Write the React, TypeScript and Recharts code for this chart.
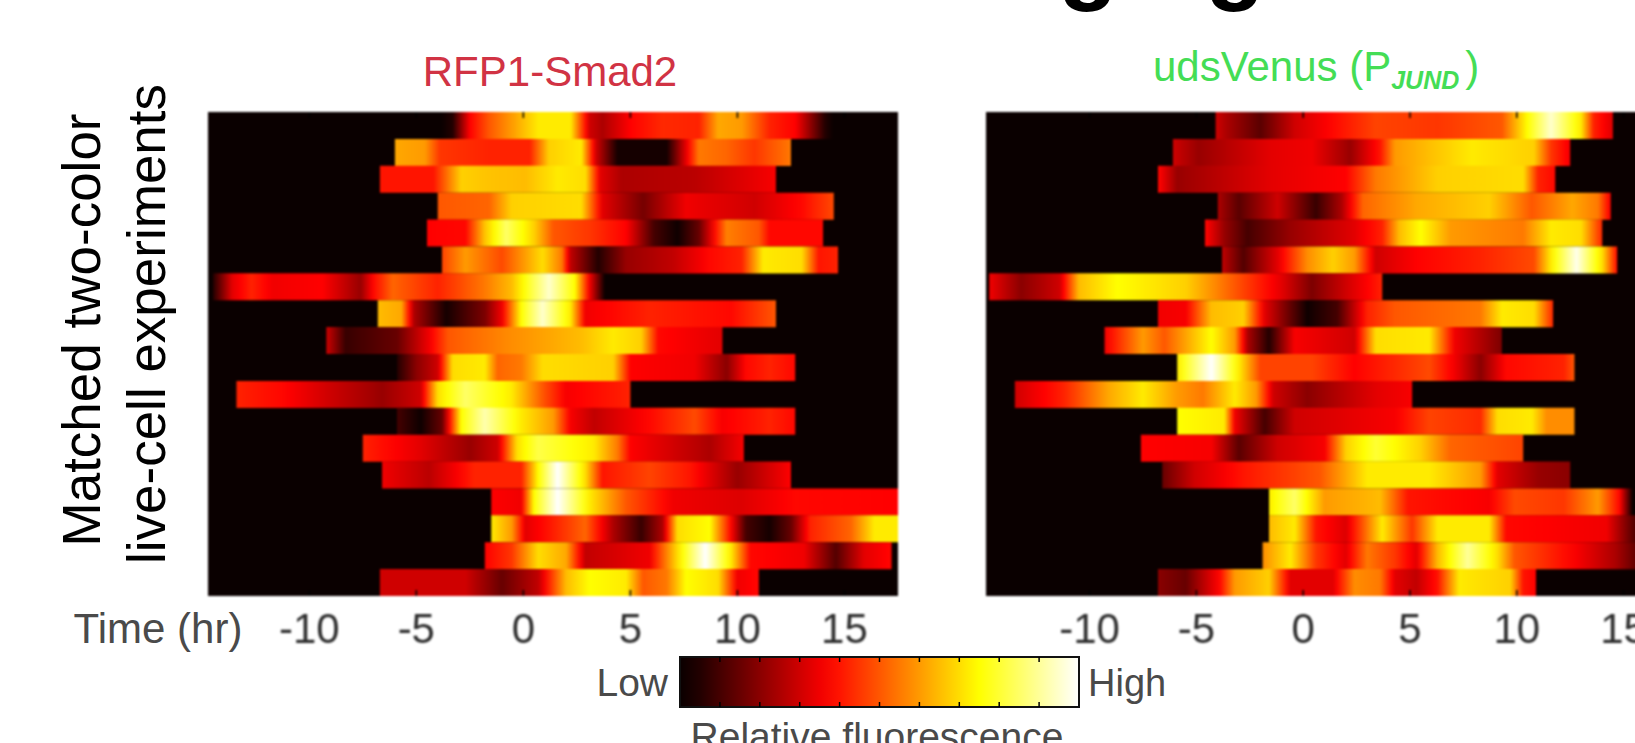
import React from "react";
import { Bar, BarChart, CartesianGrid, Cell, XAxis, YAxis } from "recharts";

type Knot = [number, number];

const timeTicks = [-10, -5, 0, 5, 10, 15];
const colorbarTicks = [0.1, 0.2, 0.3, 0.4, 0.5, 0.6, 0.7, 0.8, 0.9];
const colorbarKnots: Knot[] = [[0, 0], [0.25, 0.25], [0.5, 0.5], [0.75, 0.75], [1, 1]];

// each row: [time in hours, relative fluorescence 0..1]
const smadRows: Knot[][] = [
  [[-4, 0], [-3.3, 0.05], [-2.5, 0.37], [-1.6, 0.5], [-0.55, 0.6], [0.7, 0.72], [2.2, 0.72], [3.1, 0.3], [3.7, 0.25], [5, 0.37], [6.5, 0.43], [8.2, 0.42], [9.1, 0.62], [10.2, 0.6], [11.5, 0.42], [12.7, 0.37], [14.1, 0.05], [14.6, 0]],
  [[-6, 0.62], [-4.6, 0.6], [-3.9, 0.45], [-1.6, 0.42], [0.3, 0.42], [1.2, 0.68], [2.7, 0.72], [3.4, 0.3], [4.4, 0.03], [6.7, 0.03], [7.5, 0.3], [8.2, 0.55], [9.5, 0.52], [10.8, 0.45], [12.5, 0.55]],
  [[-6.7, 0.4], [-4.2, 0.4], [-2.9, 0.68], [-1.6, 0.66], [0.1, 0.65], [1.6, 0.72], [2.9, 0.7], [3.6, 0.33], [4.6, 0.25], [8, 0.27], [11.8, 0.36]],
  [[-4, 0.5], [-1.6, 0.52], [-0.55, 0.68], [2.7, 0.7], [3.7, 0.33], [5.6, 0.17], [7.6, 0.35], [10.8, 0.3], [13, 0.38], [14.5, 0.48]],
  [[-4.5, 0.37], [-2.7, 0.38], [-1.8, 0.66], [-0.8, 0.85], [0.5, 0.68], [1.4, 0.5], [3.1, 0.45], [4.8, 0.37], [6.1, 0.1], [7.2, 0.02], [8.2, 0.15], [9.5, 0.56], [11, 0.5], [11.5, 0.38], [14, 0.38]],
  [[-3.8, 0.47], [-2.7, 0.6], [-1, 0.48], [0.9, 0.7], [1.8, 0.55], [2.2, 0.28], [3.5, 0.05], [4.8, 0.22], [7, 0.28], [8.7, 0.38], [10.2, 0.42], [11.2, 0.72], [13, 0.7], [13.8, 0.4], [14.7, 0.42]],
  [[-14.5, 0.05], [-13.6, 0.33], [-12.7, 0.42], [-11.7, 0.35], [-9.4, 0.37], [-7.6, 0.22], [-7, 0.38], [-6.1, 0.52], [-4, 0.42], [-1.8, 0.55], [-0.55, 0.65], [0.3, 0.8], [1.2, 0.95], [2.4, 0.75], [3.1, 0.35], [3.8, 0.02]],
  [[-6.8, 0.65], [-5.7, 0.62], [-5.1, 0.25], [-3.6, 0.03], [-1.8, 0.18], [-1, 0.35], [-0.1, 0.75], [0.9, 0.95], [2.2, 0.72], [2.9, 0.35], [5.9, 0.42], [9.7, 0.38], [11.8, 0.5]],
  [[-9.2, 0.3], [-8.3, 0.08], [-5.9, 0.15], [-4.4, 0.35], [-3.5, 0.5], [-0.55, 0.58], [2.7, 0.65], [4.2, 0.72], [5.5, 0.68], [6.3, 0.38], [9.3, 0.33]],
  [[-5.9, 0.05], [-5, 0.2], [-4, 0.3], [-3.3, 0.7], [-1.8, 0.72], [-1.2, 0.52], [-0.1, 0.55], [0.9, 0.7], [4.2, 0.68], [5, 0.37], [8, 0.35], [9.5, 0.2], [10.4, 0.38], [11.5, 0.42], [12.7, 0.38]],
  [[-13.4, 0.42], [-11.3, 0.38], [-9.1, 0.3], [-6.6, 0.22], [-4.8, 0.3], [-4, 0.7], [-2.7, 0.85], [-0.55, 0.72], [0.9, 0.5], [2, 0.36], [5, 0.42]],
  [[-5.9, 0.1], [-4.8, 0.02], [-3.8, 0.15], [-2.9, 0.75], [-1.8, 0.92], [-0.1, 0.72], [1.4, 0.6], [2.2, 0.36], [3.3, 0.28], [5.9, 0.38], [8, 0.48], [9.3, 0.36], [11.5, 0.42], [12.7, 0.38]],
  [[-7.5, 0.42], [-4.8, 0.33], [-2.5, 0.22], [-1.2, 0.3], [-0.3, 0.7], [0.7, 0.82], [3.3, 0.72], [4.4, 0.55], [5, 0.37], [8.7, 0.25], [10.3, 0.36]],
  [[-6.6, 0.35], [-4.4, 0.27], [-2.3, 0.42], [-0.1, 0.42], [0.7, 0.75], [1.6, 1], [2.9, 0.7], [3.7, 0.4], [5.9, 0.47], [7.8, 0.4], [10, 0.22], [12.5, 0.37]],
  [[-1.5, 0.37], [-0.1, 0.35], [0.5, 0.75], [1.6, 1], [3.1, 0.72], [4.8, 0.5], [7, 0.35], [10.2, 0.32], [12.7, 0.38], [17.5, 0.37]],
  [[-1.5, 0.72], [-0.55, 0.6], [0.1, 0.33], [1.2, 0.4], [2.9, 0.52], [4.2, 0.25], [5.5, 0.08], [6.5, 0.25], [7.2, 0.7], [8.7, 0.75], [9.5, 0.45], [10.4, 0.1], [11.5, 0.03], [12.5, 0.15], [13.4, 0.42], [15.3, 0.52], [16.4, 0.72], [17.5, 0.72]],
  [[-1.8, 0.37], [-0.55, 0.45], [0.7, 0.7], [2, 0.62], [2.9, 0.28], [5.9, 0.35], [7.2, 0.7], [8.5, 1], [9.7, 0.72], [10.6, 0.38], [13.1, 0.35], [14.6, 0.12], [15.9, 0.33], [17.2, 0.38]],
  [[-6.7, 0.3], [-2.7, 0.3], [-1, 0.15], [0.7, 0.28], [2, 0.65], [3.1, 0.75], [4.8, 0.72], [5.6, 0.5], [6.7, 0.55], [7.6, 0.75], [9.1, 0.7], [10, 0.35], [11, 0.38]],
];

const venusRows: Knot[][] = [
  [[-4.1, 0.3], [-3.6, 0.25], [-2, 0.13], [-0.4, 0.3], [1.4, 0.38], [3.4, 0.47], [6.3, 0.45], [9.3, 0.5], [10.5, 0.75], [11.6, 0.95], [13, 0.72], [13.6, 0.42], [14.5, 0.32]],
  [[-6.1, 0.3], [-4.9, 0.22], [-1.6, 0.33], [0.4, 0.35], [2.2, 0.22], [3.6, 0.4], [4.3, 0.6], [7.9, 0.72], [10.8, 0.68], [11.6, 0.45], [12.5, 0.35]],
  [[-6.8, 0.38], [-5.9, 0.22], [-1.6, 0.33], [2, 0.37], [3.4, 0.55], [6.3, 0.68], [10.3, 0.7], [11, 0.42], [11.8, 0.38]],
  [[-4, 0.25], [-3, 0.13], [-1.2, 0.3], [0.6, 0.08], [1.8, 0.25], [2.8, 0.52], [5.3, 0.62], [8.7, 0.68], [10.7, 0.5], [12.6, 0.62], [13.8, 0.55], [14.4, 0.35]],
  [[-4.6, 0.38], [-3.7, 0.22], [-2.6, 0.1], [-0.6, 0.22], [2.4, 0.33], [3.7, 0.42], [4.5, 0.65], [5.5, 0.75], [6.9, 0.6], [10.3, 0.55], [11.6, 0.72], [13, 0.7], [14, 0.42]],
  [[-3.8, 0.28], [-2.8, 0.12], [-1.2, 0.33], [0.2, 0.58], [1.4, 0.68], [2.4, 0.6], [3.4, 0.3], [5.3, 0.37], [8.3, 0.42], [10.8, 0.48], [11.6, 0.72], [12.8, 0.98], [14, 0.7], [14.7, 0.38]],
  [[-14.7, 0.35], [-13.2, 0.2], [-11.4, 0.3], [-10.5, 0.65], [-8.7, 0.75], [-5.5, 0.68], [-3.2, 0.5], [-1, 0.33], [0.4, 0.18], [2, 0.3], [3.7, 0.42]],
  [[-6.8, 0.35], [-5.5, 0.36], [-4.3, 0.65], [-2.8, 0.68], [-1.8, 0.33], [0.2, 0.02], [1.6, 0.1], [3, 0.42], [4.3, 0.5], [8.3, 0.55], [9.3, 0.72], [10.8, 0.7], [11.7, 0.42]],
  [[-9.3, 0.35], [-7.5, 0.6], [-6.5, 0.5], [-4.3, 0.75], [-3.2, 0.6], [-2.6, 0.25], [-1.6, 0.05], [-0.4, 0.36], [2.4, 0.3], [3.4, 0.7], [5.9, 0.72], [7.1, 0.35], [9.3, 0.18]],
  [[-5.9, 0.72], [-4.3, 1], [-3, 0.72], [-2, 0.47], [0.4, 0.47], [2.4, 0.37], [5.9, 0.48], [7.1, 0.35], [8.3, 0.2], [9.5, 0.38], [12.2, 0.42], [12.7, 0.5]],
  [[-13.5, 0.3], [-11.2, 0.42], [-9.1, 0.62], [-7.5, 0.72], [-5.9, 0.6], [-4.7, 0.55], [-3.2, 0.72], [-2.2, 0.6], [-1.4, 0.3], [0.2, 0.2], [3.4, 0.33], [5.1, 0.36]],
  [[-5.9, 0.75], [-3.7, 0.72], [-3.2, 0.35], [-1.8, 0.1], [-0.4, 0.3], [4.3, 0.36], [5.9, 0.47], [8.3, 0.43], [9.1, 0.7], [10.7, 0.72], [11.4, 0.58], [12.7, 0.58]],
  [[-7.6, 0.37], [-4.3, 0.36], [-3, 0.13], [-1.2, 0.3], [1, 0.36], [2, 0.68], [3.4, 0.8], [5.5, 0.68], [6.9, 0.52], [10.3, 0.47]],
  [[-6.6, 0.15], [-5.1, 0.3], [-2.8, 0.4], [0.8, 0.5], [3, 0.72], [5.9, 0.72], [8.3, 0.6], [9.1, 0.33], [11, 0.22], [12.5, 0.2]],
  [[-1.6, 0.72], [-0.4, 0.85], [1, 0.6], [3.6, 0.65], [4.9, 0.4], [8.7, 0.36], [9.9, 0.48], [12.2, 0.45], [13.8, 0.6], [14.8, 0.38], [15.4, 0.03]],
  [[-1.6, 0.65], [-0.4, 0.72], [0.6, 0.4], [2, 0.32], [2.8, 0.5], [3.7, 0.72], [5.1, 0.45], [6.3, 0.72], [8.7, 0.72], [9.5, 0.38], [14.2, 0.35], [15.5, 0.12], [17, 0.02]],
  [[-1.9, 0.58], [-0.6, 0.72], [0.6, 0.45], [2, 0.33], [3, 0.55], [4.3, 0.45], [5.3, 0.33], [6.3, 0.65], [7.7, 0.9], [9.1, 0.7], [9.9, 0.5], [12.8, 0.36], [14.6, 0.25], [15.5, 0.15], [17, 0.02]],
  [[-6.8, 0.2], [-5.5, 0.15], [-3.9, 0.38], [-3.2, 0.6], [-1.6, 0.68], [-0.6, 0.33], [1.4, 0.33], [2.4, 0.58], [3.6, 0.55], [4.3, 0.33], [5.3, 0.28], [6.3, 0.4], [7.3, 0.72], [9.7, 0.68], [10.3, 0.4], [10.9, 0.37]],
];

const FONT = '"Liberation Sans", Arial, sans-serif';
const AXIS_TEXT = "#4a4a4a";
const BLACK = "#0a0000";

const hot = (v: number) => {
  const c = (a: number, b: number) => Math.round(255 * Math.max(0, Math.min(1, (v - a) / (b - a))));
  return `rgb(${Math.max(10, c(0, 0.37))},${c(0.37, 0.75)},${c(0.75, 1)})`;
};

const Stops = ({ knots }: { knots: Knot[] }) => {
  const t0 = knots[0][0];
  const span = knots[knots.length - 1][0] - t0;
  const stops: React.ReactElement[] = [];
  knots.forEach((k, i) => {
    const next = knots[i + 1];
    const steps = next ? 5 : 1;
    for (let s = 0; s < steps; s++) {
      const f = s / steps;
      const t = next ? k[0] + (next[0] - k[0]) * f : k[0];
      const v = next ? k[1] + (next[1] - k[1]) * f : k[1];
      stops.push(<stop key={`${i}-${s}`} offset={(t - t0) / span} stopColor={hot(v)} />);
    }
  });
  return <>{stops}</>;
};

const PLOT_H = 484;
const AXIS_H = 60;
const LABEL_BASELINE = PLOT_H + 47;
const CBAR_H = 50;
const CBAR_TICK = 5;

// axis label, plus the matching inward tick along the top edge of the panel
const TimeTick = (props: any) => (
  <g>
    <line x1={props.x} x2={props.x} y1={0} y2={6} stroke="#000" strokeWidth={1.5} />
    <text x={props.x} y={LABEL_BASELINE} textAnchor="middle" fontFamily={FONT} fontSize={42} fill="#2e2e2e">
      {props.payload.value}
    </text>
  </g>
);

const ColorTick = (props: any) => (
  <g>
    <line x1={props.x} x2={props.x} y1={2} y2={2 + CBAR_TICK} stroke="#000" strokeWidth={1.5} />
    <line x1={props.x} x2={props.x} y1={2 + CBAR_H - CBAR_TICK} y2={2 + CBAR_H} stroke="#000" strokeWidth={1.5} />
  </g>
);

const Panel = ({ id, rows, left, width, domain }: { id: string; rows: Knot[][]; left: number; width: number; domain: [number, number] }) => {
  const data = rows.map((r, i) => ({ row: i, span: [r[0][0], r[r.length - 1][0]] }));
  return (
    <div style={{ position: "absolute", left, top: 112, filter: "blur(0.9px)" }}>
      <BarChart width={width} height={PLOT_H + AXIS_H} data={data} layout="vertical" barCategoryGap={0} margin={{ top: 0, right: 0, bottom: 0, left: 0 }}>
        <defs>
          {rows.map((r, i) => (
            <linearGradient key={i} id={`${id}-${i}`} x1="0" y1="0" x2="1" y2="0">
              <Stops knots={r} />
            </linearGradient>
          ))}
        </defs>
        <CartesianGrid horizontal={false} vertical={false} fill={BLACK} stroke="none" />
        <YAxis type="category" dataKey="row" hide />
        <Bar dataKey="span" isAnimationActive={false} stroke="none">
          {rows.map((_, i) => (
            <Cell key={i} fill={`url(#${id}-${i})`} />
          ))}
        </Bar>
        <XAxis type="number" domain={domain} ticks={timeTicks} allowDataOverflow height={AXIS_H} axisLine={false} tickSize={-6} tickLine={{ stroke: "#000", strokeWidth: 1.5 }} tick={TimeTick} interval={0} />
      </BarChart>
    </div>
  );
};

const Colorbar = () => (
  <div style={{ position: "absolute", left: 678, top: 655, filter: "blur(0.5px)" }}>
    <BarChart width={403} height={CBAR_H + 4} data={[{ name: "Relative fluorescence", span: [0, 1] }]} layout="vertical" barCategoryGap={0} margin={{ top: 2, right: 2, bottom: 1, left: 2 }}>
      <defs>
        <linearGradient id="cbar" x1="0" y1="0" x2="1" y2="0">
          <Stops knots={colorbarKnots} />
        </linearGradient>
      </defs>
      <YAxis type="category" dataKey="name" hide />
      <Bar dataKey="span" isAnimationActive={false} fill="url(#cbar)" stroke="#111" strokeWidth={2} />
      <XAxis type="number" domain={[0, 1]} ticks={colorbarTicks} height={1} axisLine={false} tick={ColorTick} tickLine={false} interval={0} />
    </BarChart>
  </div>
);

export default function App() {
  return (
    <div style={{ position: "absolute", left: 0, top: 0, width: 1635, height: 743, overflow: "hidden", background: "#fff" }}>
      <Panel id="smad" rows={smadRows} left={207.5} width={690} domain={[-14.73, 17.5]} />
      <Panel id="venus" rows={venusRows} left={986} width={691} domain={[-14.85, 17.5]} />
      <Colorbar />
      <svg width={1635} height={743} style={{ position: "absolute", left: 0, top: 0, pointerEvents: "none" }} fontFamily={FONT}>
        <text x={1265} y={-8} textAnchor="end" fontSize={98} fontWeight={700} fill="#000">Live-cell imaging</text>
        <text x={550} y={86} textAnchor="middle" fontSize={42} fill="#d13344">RFP1-Smad2</text>
        <text x={1153} y={81} fontSize={42} fill="#44dd55">
          udsVenus (P
          <tspan dy={8} fontSize={25} fontStyle="italic" fontWeight={700}>JUND</tspan>
          <tspan dy={-8} dx={6}>)</tspan>
        </text>
        <text x={158} y={643} textAnchor="middle" fontSize={42} fill={AXIS_TEXT}>Time (hr)</text>
        <text x={668} y={696} textAnchor="end" fontSize={39} fill={AXIS_TEXT}>Low</text>
        <text x={1088} y={696} fontSize={38} fill={AXIS_TEXT}>High</text>
        <text x={877} y={750} textAnchor="middle" fontSize={39} fill={AXIS_TEXT}>Relative fluorescence</text>
        <text transform="translate(100,330) rotate(-90)" textAnchor="middle" fontSize={53} fill="#000">Matched two-color</text>
        <text transform="translate(165,324) rotate(-90)" textAnchor="middle" fontSize={53} fill="#000">live-cell experiments</text>
      </svg>
    </div>
  );
}
